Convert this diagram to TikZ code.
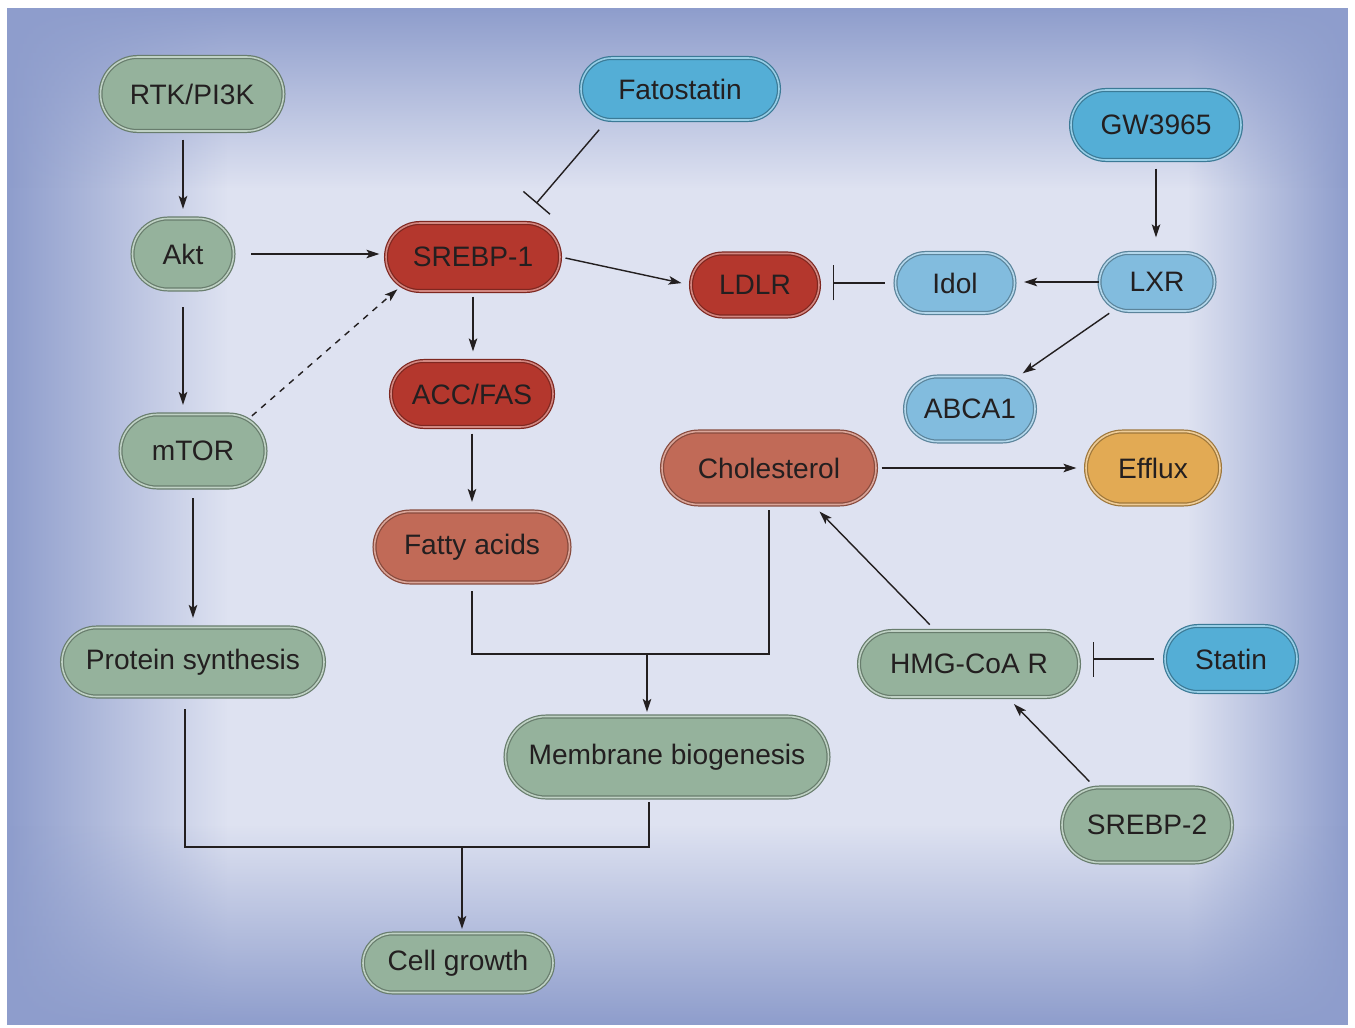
\documentclass[tikz,border=0pt]{standalone}
\usepackage{fontspec}
\setmainfont{Liberation Sans}
\usepackage{tikz}
\usetikzlibrary{arrows.meta,calc,fadings,shapes.misc}
\definecolor{panelbg}{RGB}{222,226,241}
\definecolor{paneledge}{RGB}{142,157,204}
\definecolor{inktext}{RGB}{35,31,32}
\definecolor{sagegreen}{RGB}{149,178,156}
\definecolor{brickred}{RGB}{180,55,45}
\definecolor{salmonred}{RGB}{193,106,87}
\definecolor{drugblue}{RGB}{84,174,214}
\definecolor{paleblue}{RGB}{130,188,222}
\definecolor{goldorange}{RGB}{226,170,84}
\tikzfading[name=fadewest, left color=transparent!0, right color=transparent!100]
\tikzfading[name=fadeeast, left color=transparent!100, right color=transparent!0]
\tikzfading[name=fadenorth, top color=transparent!0, bottom color=transparent!100]
\tikzfading[name=fadesouth, top color=transparent!100, bottom color=transparent!0]
\tikzset{
  base/.style={font=\fontsize{16}{19}\selectfont, align=center, inner sep=0pt, text=inktext},
  pill/.style={base, rounded rectangle, fill=#1, draw=#1!70!black, line width=0.7pt,
    double=#1!60!white, double distance=0.9pt},
  pathway/.style={pill=sagegreen},
  redbox/.style={pill=brickred},
  lipidbox/.style={pill=salmonred},
  drugbox/.style={pill=drugblue},
  lxrbox/.style={pill=paleblue},
  fluxbox/.style={pill=goldorange},
  arr/.style={-{Stealth[length=2.6mm,width=1.7mm,inset=0.6mm]}, line width=0.8pt, draw=inktext,
    shorten <=0.16cm, shorten >=0.18cm},
  arrd/.style={arr, dash pattern=on 3.5pt off 3.5pt},
  link/.style={line width=0.8pt, draw=inktext},
  inh/.style={-{Bar[width=7mm,line width=0.8pt]}, line width=0.8pt, draw=inktext,
    shorten <=0.2cm, shorten >=0.26cm},
}

\begin{document}
\begin{tikzpicture}
  \useasboundingbox (0,0) rectangle (27.1,-20.56);
  % panel with soft blue edges
  \fill[panelbg] (0.14,-0.16) rectangle (26.96,-20.5);
  \fill[paneledge, path fading=fadewest] (0.14,-0.16) rectangle (4.54,-20.5);
  \fill[paneledge, path fading=fadeeast] (23.76,-0.16) rectangle (26.96,-20.5);
  \fill[paneledge, path fading=fadenorth] (0.14,-0.16) rectangle (26.96,-3.76);
  \fill[paneledge, path fading=fadesouth] (0.14,-16.5) rectangle (26.96,-20.5);

  % nodes
  \node[pathway, minimum width=3.66cm, minimum height=1.48cm] (rtk) at (3.84,-1.88) {RTK/PI3K};
  \node[drugbox, minimum width=3.96cm, minimum height=1.24cm] (fato) at (13.6,-1.78) {Fatostatin};
  \node[drugbox, minimum width=3.4cm, minimum height=1.4cm] (gw) at (23.12,-2.5) {GW3965};
  \node[pathway, minimum width=2.02cm, minimum height=1.42cm] (akt) at (3.66,-5.08) {Akt};
  \node[redbox, minimum width=3.48cm, minimum height=1.36cm] (srebpa) at (9.46,-5.14) {SREBP-1};
  \node[redbox, minimum width=2.56cm, minimum height=1.26cm] (ldlr) at (15.1,-5.7) {LDLR};
  \node[lxrbox, minimum width=2.38cm, minimum height=1.2cm] (idol) at (19.1,-5.66) {Idol};
  \node[lxrbox, minimum width=2.3cm, minimum height=1.16cm] (lxr) at (23.14,-5.64) {LXR};
  \node[lxrbox, minimum width=2.6cm, minimum height=1.3cm] (abca) at (19.4,-8.18) {ABCA1};
  \node[redbox, minimum width=3.24cm, minimum height=1.32cm] (acc) at (9.44,-7.88) {ACC/FAS};
  \node[pathway, minimum width=2.9cm, minimum height=1.46cm] (mtor) at (3.86,-9.02) {mTOR};
  \node[lipidbox, minimum width=4.28cm, minimum height=1.46cm] (chol) at (15.38,-9.36) {Cholesterol};
  \node[fluxbox, minimum width=2.68cm, minimum height=1.46cm] (efflux) at (23.06,-9.36) {Efflux};
  \node[lipidbox, minimum width=3.9cm, minimum height=1.42cm] (fatty) at (9.44,-10.94) {Fatty acids};
  \node[pathway, minimum width=5.24cm, minimum height=1.38cm] (prot) at (3.86,-13.24) {Protein synthesis};
  \node[pathway, minimum width=4.4cm, minimum height=1.32cm] (hmg) at (19.38,-13.28) {HMG-CoA R};
  \node[drugbox, minimum width=2.64cm, minimum height=1.32cm] (statin) at (24.62,-13.18) {Statin};
  \node[pathway, minimum width=6.46cm, minimum height=1.62cm] (memb) at (13.34,-15.14) {Membrane biogenesis};
  \node[pathway, minimum width=3.4cm, minimum height=1.5cm] (srebpb) at (22.94,-16.5) {SREBP-2};
  \node[pathway, minimum width=3.8cm, minimum height=1.18cm] (cell) at (9.16,-19.26) {Cell growth};

  % signalling
  \draw[arr] (rtk.south -| akt) -- (akt.north);
  \draw[arr, shorten <=0.34cm] (akt.south) -- (akt.south |- mtor.north);
  \draw[arr, shorten <=0.2cm] (mtor.south) -- (mtor.south |- prot.north);
  \draw[arr, shorten <=0.34cm, shorten >=0.12cm] (akt.east) -- (akt.east -| srebpa.west);
  \draw[arrd, shorten <=0.1cm, shorten >=0.1cm] (mtor.30) -- (srebpa.202);
  \draw[inh, shorten <=0.24cm, shorten >=0.5cm] ([xshift=-1.46cm]fato.south) -- ([xshift=0.94cm]srebpa.north);
  \draw[arr, shorten <=0.1cm] (srebpa.east) -- (ldlr.west);
  \draw[arr, shorten <=0.1cm] (srebpa.south) -- (srebpa.south |- acc.north);
  \draw[arr, shorten <=0.12cm] (acc.south) -- (fatty.north);
  % LXR side
  \draw[inh] (idol.west) -- (idol.west -| ldlr.east);
  \draw[arr, shorten <=0pt] (lxr.west) -- (lxr.west -| idol.east);
  \draw[arr, shorten >=0.3cm] (gw.south) -- (gw.south |- lxr.north);
  \draw[arr] (lxr.213) -- (abca.34);
  \draw[arr, shorten <=0.1cm] (chol.east) -- (efflux.west);
  \draw[arr] (hmg.135) -- (chol.-40);
  \draw[inh] (statin.west) -- (statin.west -| hmg.east);
  \draw[arr] (srebpb.144) -- (hmg.-41);
  % merges
  \coordinate (lipidjoin) at (12.94,-13.08);
  \draw[link, shorten <=0.16cm, shorten >=0.1cm] (fatty.south) |- (lipidjoin) -| (chol.south);
  \draw[arr, shorten <=0pt, shorten >=0.08cm] (lipidjoin) -- (lipidjoin |- memb.north);
  \coordinate (growjoin) at (9.24,-16.94);
  \draw[link, shorten <=0.24cm, shorten >=0.08cm] ([xshift=-0.16cm]prot.south) |- (growjoin) -| ([xshift=-0.36cm]memb.south);
  \draw[arr, shorten <=0pt, shorten >=0.08cm] (growjoin) -- (growjoin |- cell.north);
\end{tikzpicture}
\end{document}
